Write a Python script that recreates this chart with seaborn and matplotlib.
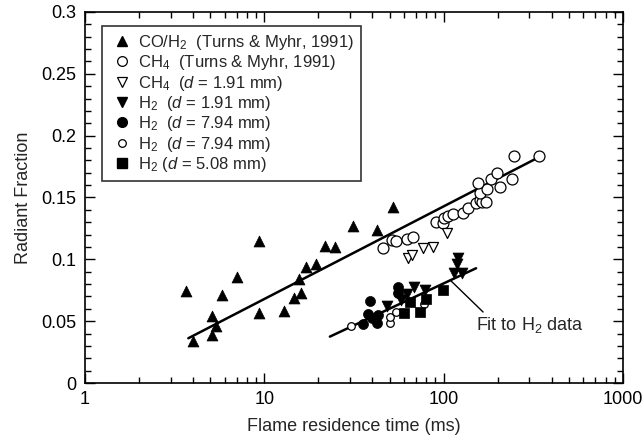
import matplotlib
matplotlib.use("Agg")
import matplotlib.pyplot as plt
from matplotlib.lines import Line2D
from matplotlib.ticker import LogLocator, MultipleLocator, FuncFormatter, NullFormatter
import seaborn as sns
import pandas as pd

# CO/H2 flames (Turns & Myhr, 1991)
co_h2_x = [3.66, 3.99, 5.09, 5.09, 5.38, 5.83, 7.07, 9.38, 9.38, 12.8, 14.7, 15.6,
           15.96, 17.1, 19.35, 21.9, 24.7, 31.4, 42.4, 52.4]
co_h2_y = [0.074, 0.034, 0.054, 0.039, 0.046, 0.071, 0.086, 0.115, 0.057, 0.058, 0.069, 0.084,
           0.073, 0.094, 0.096, 0.111, 0.110, 0.127, 0.124, 0.142]

# CH4 flames (Turns & Myhr, 1991)
ch4_tm_x = [46.1, 51.3, 54.5, 62.2, 67.2, 90.7, 99.6, 100.6, 106.3, 113.3, 127.8, 137.3,
            151.6, 159.6, 162.8, 172.4, 159.6, 175.3, 156.2, 183.1, 197.7, 206.4, 239.8,
            247.0, 341.8]
ch4_tm_y = [0.109, 0.1157, 0.1151, 0.1162, 0.1184, 0.1305, 0.1292, 0.1332, 0.1351, 0.1367,
            0.1378, 0.1413, 0.1454, 0.148, 0.1467, 0.1467, 0.154, 0.1567, 0.1616, 0.1648,
            0.1701, 0.1583, 0.1648, 0.1836, 0.1836]

# CH4, d = 1.91 mm
ch4_d191_x = [63.6, 66.4, 76.5, 86.9, 104.1]
ch4_d191_y = [0.101, 0.1036, 0.109, 0.1103, 0.1211]

# H2, d = 1.91 mm
h2_d191_x = [48.5, 57.5, 62.3, 68.0, 78.5, 114.3, 118.4, 119.8, 126.2]
h2_d191_y = [0.062, 0.067, 0.072, 0.078, 0.075, 0.0887, 0.0963, 0.1009, 0.0892]

# H2, d = 7.94 mm (filled)
h2_d794a_x = [35.7, 38.0, 38.9, 39.7, 42.4, 43.1, 55.9, 55.9]
h2_d794a_y = [0.0477, 0.0558, 0.0666, 0.0523, 0.0488, 0.055, 0.0774, 0.0726]

# H2, d = 7.94 mm (open)
h2_d794b_x = [30.3, 50.2, 50.5, 54.4, 78.1]
h2_d794b_y = [0.0461, 0.0488, 0.0537, 0.0577, 0.0639]

# H2, d = 5.08 mm
h2_d508_x = [60.1, 64.9, 73.9, 79.8, 99.6]
h2_d508_y = [0.0564, 0.0658, 0.0577, 0.0677, 0.0752]

# Fit lines (end points)
fit_all_x = [3.77, 344.8]
fit_all_y = [0.0362, 0.1831]
fit_h2_x = [23.2, 151.6]
fit_h2_y = [0.0375, 0.0928]

# Leader line for the H2 fit label
leader_x = [108.6, 165.9]
leader_y = [0.0833, 0.0574]
fit_label = "Fit to H$_2$ data"
fit_label_pos = (152.0, 0.047)

legend_labels = [
    "CO/H$_2$  (Turns & Myhr, 1991)",
    "CH$_4$  (Turns & Myhr, 1991)",
    "CH$_4$  ($d$ = 1.91 mm)",
    "H$_2$  ($d$ = 1.91 mm)",
    "H$_2$  ($d$ = 7.94 mm)",
    "H$_2$  ($d$ = 7.94 mm)",
    "H$_2$ ($d$ = 5.08 mm)",
]

FS = 13
LEG_FS = 12

sns.set_theme(style="ticks")
plt.rcParams["font.family"] = ["Liberation Sans", "DejaVu Sans"]
plt.rcParams["mathtext.fontset"] = "custom"
plt.rcParams["mathtext.rm"] = "Liberation Sans"
plt.rcParams["mathtext.it"] = "Liberation Sans:italic"
plt.rcParams["mathtext.bf"] = "Liberation Sans:bold"

fig = plt.figure(figsize=(6.43, 4.43), dpi=100)
ax = fig.add_axes([85 / 643, 1 - 383 / 443, 538 / 643, 371 / 443])

# (x, y, marker, size, face, edge, edge width)
series = [
    (co_h2_x, co_h2_y, "^", 62, "black", "black", 0.5),
    (ch4_tm_x, ch4_tm_y, "o", 62, "white", "black", 0.9),
    (ch4_d191_x, ch4_d191_y, "v", 52, "white", "black", 0.9),
    (h2_d191_x, h2_d191_y, "v", 62, "black", "black", 0.5),
    (h2_d794a_x, h2_d794a_y, "o", 52, "black", "black", 0.5),
    (h2_d794b_x, h2_d794b_y, "o", 30, "white", "black", 0.9),
    (h2_d508_x, h2_d508_y, "s", 42, "black", "black", 0.5),
]

# fit lines sit under the markers
sns.lineplot(x=fit_all_x, y=fit_all_y, ax=ax, color="black", linewidth=1.8, zorder=2)
sns.lineplot(x=fit_h2_x, y=fit_h2_y, ax=ax, color="black", linewidth=1.8, zorder=2)

for xs, ys, mk, s, fc, ec, lw in series:
    df = pd.DataFrame({"t": xs, "f": ys})
    sns.scatterplot(data=df, x="t", y="f", ax=ax, marker=mk, s=s,
                    facecolor=fc, edgecolor=ec, linewidth=lw, zorder=3)

ax.plot(leader_x, leader_y, color="black", linewidth=1.0, zorder=2)
ax.text(fit_label_pos[0], fit_label_pos[1], fit_label, fontsize=FS,
        ha="left", va="center")

ax.set_xscale("log")
ax.set_xlim(1, 1000)
ax.set_ylim(0, 0.3)
ax.xaxis.set_major_locator(LogLocator(base=10, numticks=10))
ax.xaxis.set_minor_locator(LogLocator(base=10, subs=range(2, 10), numticks=20))
ax.xaxis.set_major_formatter(FuncFormatter(lambda v, p: "%g" % v))
ax.xaxis.set_minor_formatter(NullFormatter())
ax.yaxis.set_major_locator(MultipleLocator(0.05))
ax.yaxis.set_minor_locator(MultipleLocator(0.01))
ax.yaxis.set_major_formatter(FuncFormatter(lambda v, p: "%g" % round(v, 3)))

ax.tick_params(which="both", direction="in", top=True, right=True,
               colors="black", labelsize=FS, width=1.0)
ax.tick_params(which="major", length=7, pad=6)
ax.tick_params(which="minor", length=4)
for sp in ax.spines.values():
    sp.set_visible(True)
    sp.set_linewidth(1.2)
    sp.set_color("black")

ax.set_xlabel("Flame residence time (ms)", fontsize=FS, labelpad=7)
ax.set_ylabel("Radiant Fraction", fontsize=FS, labelpad=7)

handles = [
    Line2D([], [], linestyle="none", marker="^", markersize=7, mfc="black", mec="black"),
    Line2D([], [], linestyle="none", marker="o", markersize=7, mfc="white", mec="black", mew=0.9),
    Line2D([], [], linestyle="none", marker="v", markersize=6.5, mfc="white", mec="black", mew=0.9),
    Line2D([], [], linestyle="none", marker="v", markersize=7, mfc="black", mec="black"),
    Line2D([], [], linestyle="none", marker="o", markersize=7, mfc="black", mec="black"),
    Line2D([], [], linestyle="none", marker="o", markersize=5.5, mfc="white", mec="black", mew=0.9),
    Line2D([], [], linestyle="none", marker="s", markersize=6.5, mfc="black", mec="black"),
]
leg = ax.legend(handles, legend_labels, loc="upper left",
                bbox_to_anchor=((102 - 85) / 538, (383 - 26) / 371),
                borderaxespad=0, frameon=True, fancybox=False, fontsize=LEG_FS,
                handlelength=1.6, handletextpad=0.15, labelspacing=0.08,
                borderpad=0.42)
leg.get_frame().set_edgecolor("black")
leg.get_frame().set_linewidth(1.2)

fig.savefig("out.png", dpi=100)
